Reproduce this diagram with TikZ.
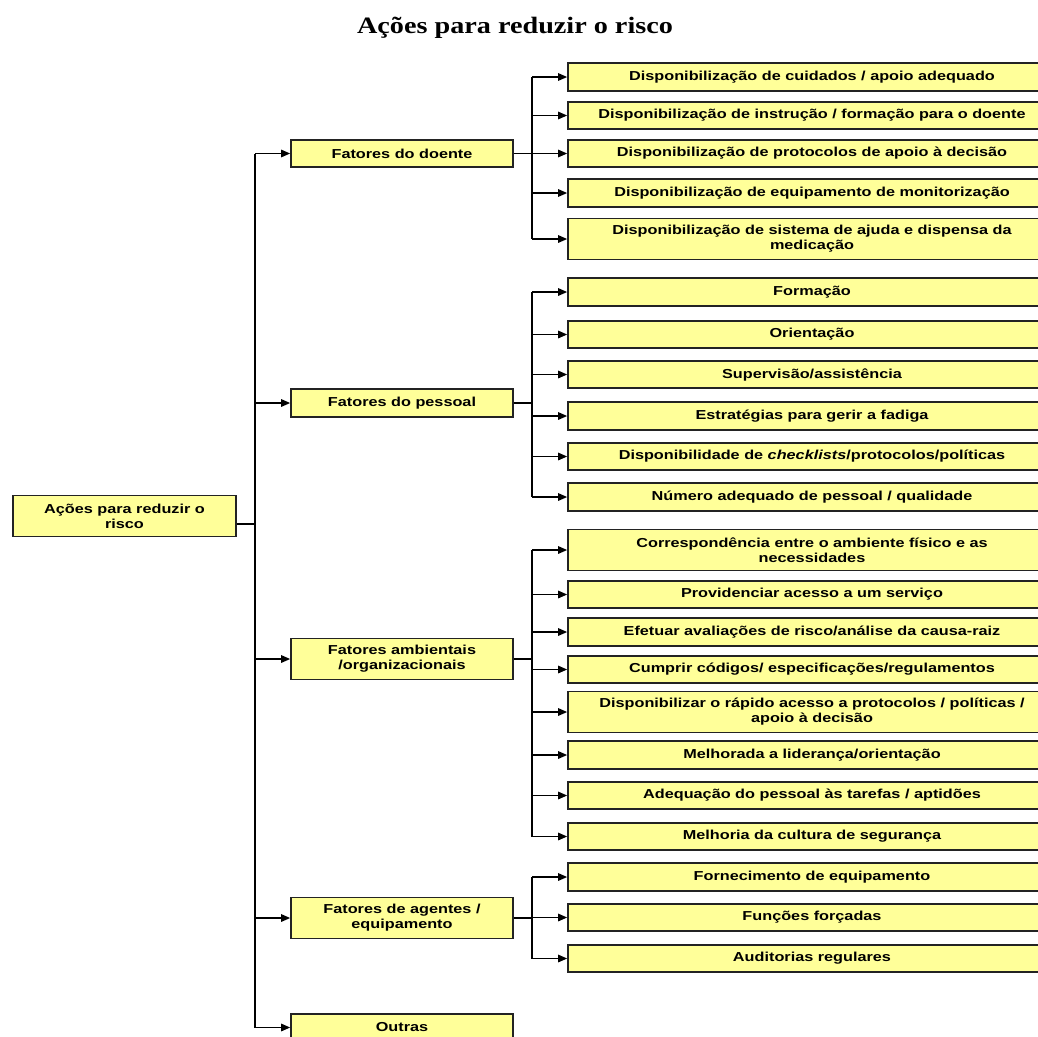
\documentclass[tikz,border=0pt]{standalone}
\usepackage{fontspec}
\setmainfont{Liberation Sans}[FakeStretch=1.25]
\newfontfamily\titlefont{Liberation Serif}[FakeStretch=1.2]
\usetikzlibrary{arrows.meta}
\definecolor{boxyellow}{RGB}{255,255,153}
\definecolor{edgegray}{RGB}{35,35,35}
\begin{document}
\begin{tikzpicture}[x=1pt,y=-1pt,
  box/.style={draw=edgegray, line width=1.7pt, fill=boxyellow, align=center, inner sep=0pt,
    font=\fontsize{13}{15}\selectfont\bfseries},
  leaf/.style={box, minimum width=488pt},
  mid/.style={box, minimum width=222pt},
  h1/.style={minimum height=27.5pt},
  h2/.style={minimum height=41pt},
  conn/.style={line width=1.4pt, draw=black},
  arr/.style={conn, -{Triangle[length=9pt,width=7.5pt]}}]
\fill[white] (0,0) rectangle (1038,1036);
\useasboundingbox (0,0) rectangle (1038,1036);

\node[font=\titlefont\fontsize{23.5}{26}\selectfont\bfseries, anchor=base] (title) at (515,33) {Ações para reduzir o risco};

% root
\node[box, minimum width=223pt, h2] (root) at (124.5,516) {Ações para reduzir o\\risco};

% level 2
\node[mid, h1] (F1) at (402,153.5) {Fatores do doente};
\node[mid, h1] (F2) at (402,403) {Fatores do pessoal};
\node[mid, h2] (F3) at (402,659) {Fatores ambientais\\/organizacionais};
\node[mid, h2] (F4) at (402,918) {Fatores de agentes /\\equipamento};
\node[mid, h1] (F5) at (402,1027.5) {Outras};

% level 3
\node[leaf, h1] (d1) at (812,77) {Disponibilização de cuidados / apoio adequado};
\node[leaf, h1] (d2) at (812,115.5) {Disponibilização de instrução / formação para o doente};
\node[leaf, h1] (d3) at (812,153.5) {Disponibilização de protocolos de apoio à decisão};
\node[leaf, h1] (d4) at (812,193) {Disponibilização de equipamento de monitorização};
\node[leaf, h2] (d5) at (812,239) {Disponibilização de sistema de ajuda e dispensa da\\medicação};

\node[leaf, h1] (p1) at (812,292) {Formação};
\node[leaf, h1] (p2) at (812,334.5) {Orientação};
\node[leaf, h1] (p3) at (812,374.5) {Supervisão/assistência};
\node[leaf, h1] (p4) at (812,416) {Estratégias para gerir a fadiga};
\node[leaf, h1] (p5) at (812,456.5) {Disponibilidade de \textit{checklists}/protocolos/políticas};
\node[leaf, h1] (p6) at (812,497) {Número adequado de pessoal / qualidade};

\node[leaf, h2] (a1) at (812,550) {Correspondência entre o ambiente físico e as\\necessidades};
\node[leaf, h1] (a2) at (812,594.5) {Providenciar acesso a um serviço};
\node[leaf, h1] (a3) at (812,632) {Efetuar avaliações de risco/análise da causa-raiz};
\node[leaf, h1] (a4) at (812,669.5) {Cumprir códigos/ especificações/regulamentos};
\node[leaf, h2] (a5) at (812,712) {Disponibilizar o rápido acesso a protocolos / políticas /\\apoio à decisão};
\node[leaf, h1] (a6) at (812,755) {Melhorada a liderança/orientação};
\node[leaf, h1] (a7) at (812,795.5) {Adequação do pessoal às tarefas / aptidões};
\node[leaf, h1] (a8) at (812,836.5) {Melhoria da cultura de segurança};

\node[leaf, h1] (e1) at (812,877) {Fornecimento de equipamento};
\node[leaf, h1] (e2) at (812,917.5) {Funções forçadas};
\node[leaf, h1] (e3) at (812,958.5) {Auditorias regulares};

% trunks
\coordinate (T) at (255,0);
\coordinate (U) at (532,0);

\draw[conn] ([yshift=-8pt]root.east) coordinate (r0) -- (T |- r0);
\draw[conn] (T |- F1.west) -- (T |- F5.west);
\foreach \n in {F1,F2,F3,F4,F5} \draw[arr] (T |- \n.west) -- (\n.west);

\draw[conn] (F1.east) -- (U |- F1.east);
\draw[conn] (U |- d1.west) -- (U |- d5.west);
\foreach \n in {d1,d2,d3,d4,d5} \draw[arr] (U |- \n.west) -- (\n.west);

\draw[conn] (F2.east) -- (U |- F2.east);
\draw[conn] (U |- p1.west) -- (U |- p6.west);
\foreach \n in {p1,p2,p3,p4,p5,p6} \draw[arr] (U |- \n.west) -- (\n.west);

\draw[conn] (F3.east) -- (U |- F3.east);
\draw[conn] (U |- a1.west) -- (U |- a8.west);
\foreach \n in {a1,a2,a3,a4,a5,a6,a7,a8} \draw[arr] (U |- \n.west) -- (\n.west);

\draw[conn] (F4.east) -- (U |- F4.east);
\draw[conn] (U |- e1.west) -- (U |- e3.west);
\foreach \n in {e1,e2,e3} \draw[arr] (U |- \n.west) -- (\n.west);
\end{tikzpicture}
\end{document}
